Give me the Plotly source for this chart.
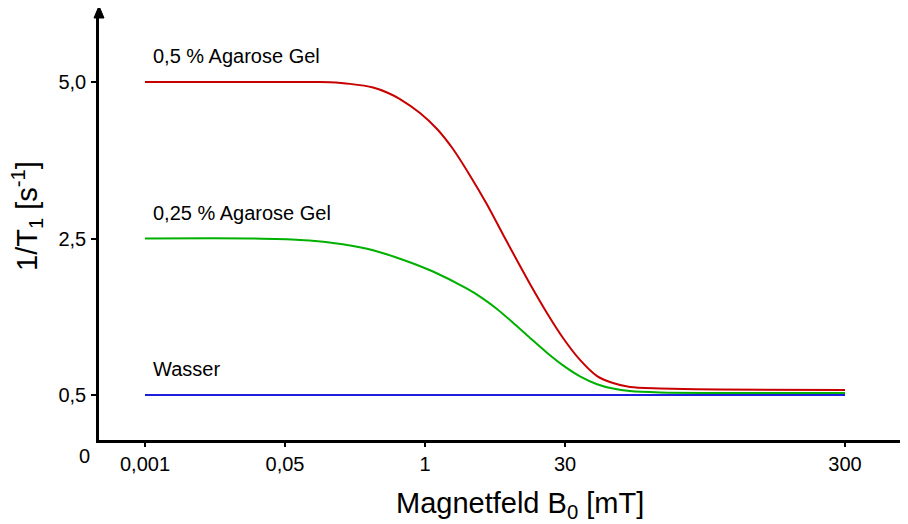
import plotly.graph_objects as go

# x positions are ordinal slots of the schematic field axis (ticks at 0,1,2,3,5)
x_tick_slots = [0, 1, 2, 3, 5]
x_tick_labels = ["0,001", "0,05", "1", "30", "300"]

# y positions are ordinal levels of the schematic relaxation-rate axis
y_tick_levels = [1, 2, 3]
y_tick_labels = ["0,5", "2,5", "5,0"]

red_x = [0, 0.75, 1.25, 1.321, 1.464, 1.629, 1.729, 1.821, 1.964, 2.086, 2.2, 2.321, 2.443, 2.557,
         2.679, 2.75, 2.871, 2.986, 3.107, 3.229, 3.343, 3.464, 3.679, 4.107, 5.0]
red_y = [3.0, 3.0, 3.0, 2.998, 2.988, 2.965, 2.933, 2.891, 2.802, 2.700, 2.572, 2.403, 2.217, 2.026,
         1.824, 1.709, 1.524, 1.364, 1.224, 1.121, 1.077, 1.051, 1.042, 1.035, 1.032]

green_x = [0, 0.75, 1.107, 1.343, 1.586, 1.821, 2.057, 2.3, 2.414, 2.514, 2.629, 2.75, 2.871, 2.986,
           3.107, 3.229, 3.343, 3.464, 3.679, 4.107, 5.0]
green_y = [2.0, 2.0, 1.991, 1.972, 1.934, 1.871, 1.789, 1.679, 1.616, 1.550, 1.462, 1.365, 1.270, 1.189,
           1.119, 1.069, 1.041, 1.025, 1.016, 1.013, 1.013]

blue_x = [0, 5.0]
blue_y = [1.0, 1.0]

series_names = ["0,5 % Agarose Gel", "0,25 % Agarose Gel", "Wasser"]
series_colors = ["#c80000", "#00b000", "#1e1edc"]

FONT = "Arial, Liberation Sans, sans-serif"

fig = go.Figure()
for xs, ys, name, col in zip([red_x, green_x, blue_x], [red_y, green_y, blue_y], series_names, series_colors):
    fig.add_trace(go.Scatter(x=xs, y=ys, mode="lines", name=name,
                             line=dict(color=col, width=2, shape="spline", smoothing=0.8),
                             showlegend=False, hoverinfo="skip"))

# curve labels
label_levels = [3.0, 2.0, 1.0]
for name, lvl in zip(series_names, label_levels):
    fig.add_annotation(x=0, y=lvl, xref="x", yref="y", text=name, showarrow=False,
                       xanchor="left", yanchor="middle", xshift=6, yshift=26,
                       font=dict(family=FONT, size=20, color="black"))

fig.update_layout(
    width=900, height=516,
    margin=dict(l=91, r=0, t=4, b=84, pad=0),
    paper_bgcolor="white", plot_bgcolor="white",
    font=dict(family=FONT, color="black"),
    xaxis=dict(range=[-0.3286, 5.45], tickvals=x_tick_slots, ticktext=x_tick_labels,
               showline=True, linecolor="black", linewidth=2.5, ticks="outside",
               ticklen=4, tickwidth=1.5, tickcolor="black", showgrid=False, zeroline=False,
               tickfont=dict(family=FONT, size=20, color="black"), ticklabelstandoff=0),
    yaxis=dict(range=[0.7125, 3.4473], tickvals=y_tick_levels, ticktext=y_tick_labels,
               showline=True, linecolor="black", linewidth=2.5, ticks="outside",
               ticklen=5, tickwidth=1.5, tickcolor="black", showgrid=False, zeroline=False,
               tickfont=dict(family=FONT, size=20, color="black"), ticklabelstandoff=1),
)

# origin label
fig.add_annotation(x=0, y=0, xref="paper", yref="paper", text="0", showarrow=False,
                   xanchor="center", yanchor="middle", xshift=-15, yshift=-16,
                   font=dict(family=FONT, size=20, color="black"))

# axis titles
fig.add_annotation(x=0.52, y=0, xref="paper", yref="paper", text="Magnetfeld B<sub>0</sub> [mT]",
                   showarrow=False, xanchor="center", yanchor="middle", yshift=-65,
                   font=dict(family=FONT, size=29, color="black"))
fig.add_annotation(x=0, y=0.5, xref="paper", yref="paper", text="1/T<sub>1</sub> [s<sup>-1</sup>]",
                   showarrow=False, textangle=-90, xanchor="center", yanchor="middle",
                   xshift=-72, yshift=10,
                   font=dict(family=FONT, size=29, color="black"))

# arrowhead on top of the y axis
fig.add_shape(type="path", xref="paper", yref="paper", xsizemode="pixel", ysizemode="pixel",
              xanchor=0, yanchor=1, path="M -5,-6 L 5,-6 L 0,6 Z",
              fillcolor="black", line=dict(color="black", width=1), layer="above")

fig.write_html("out.html")
